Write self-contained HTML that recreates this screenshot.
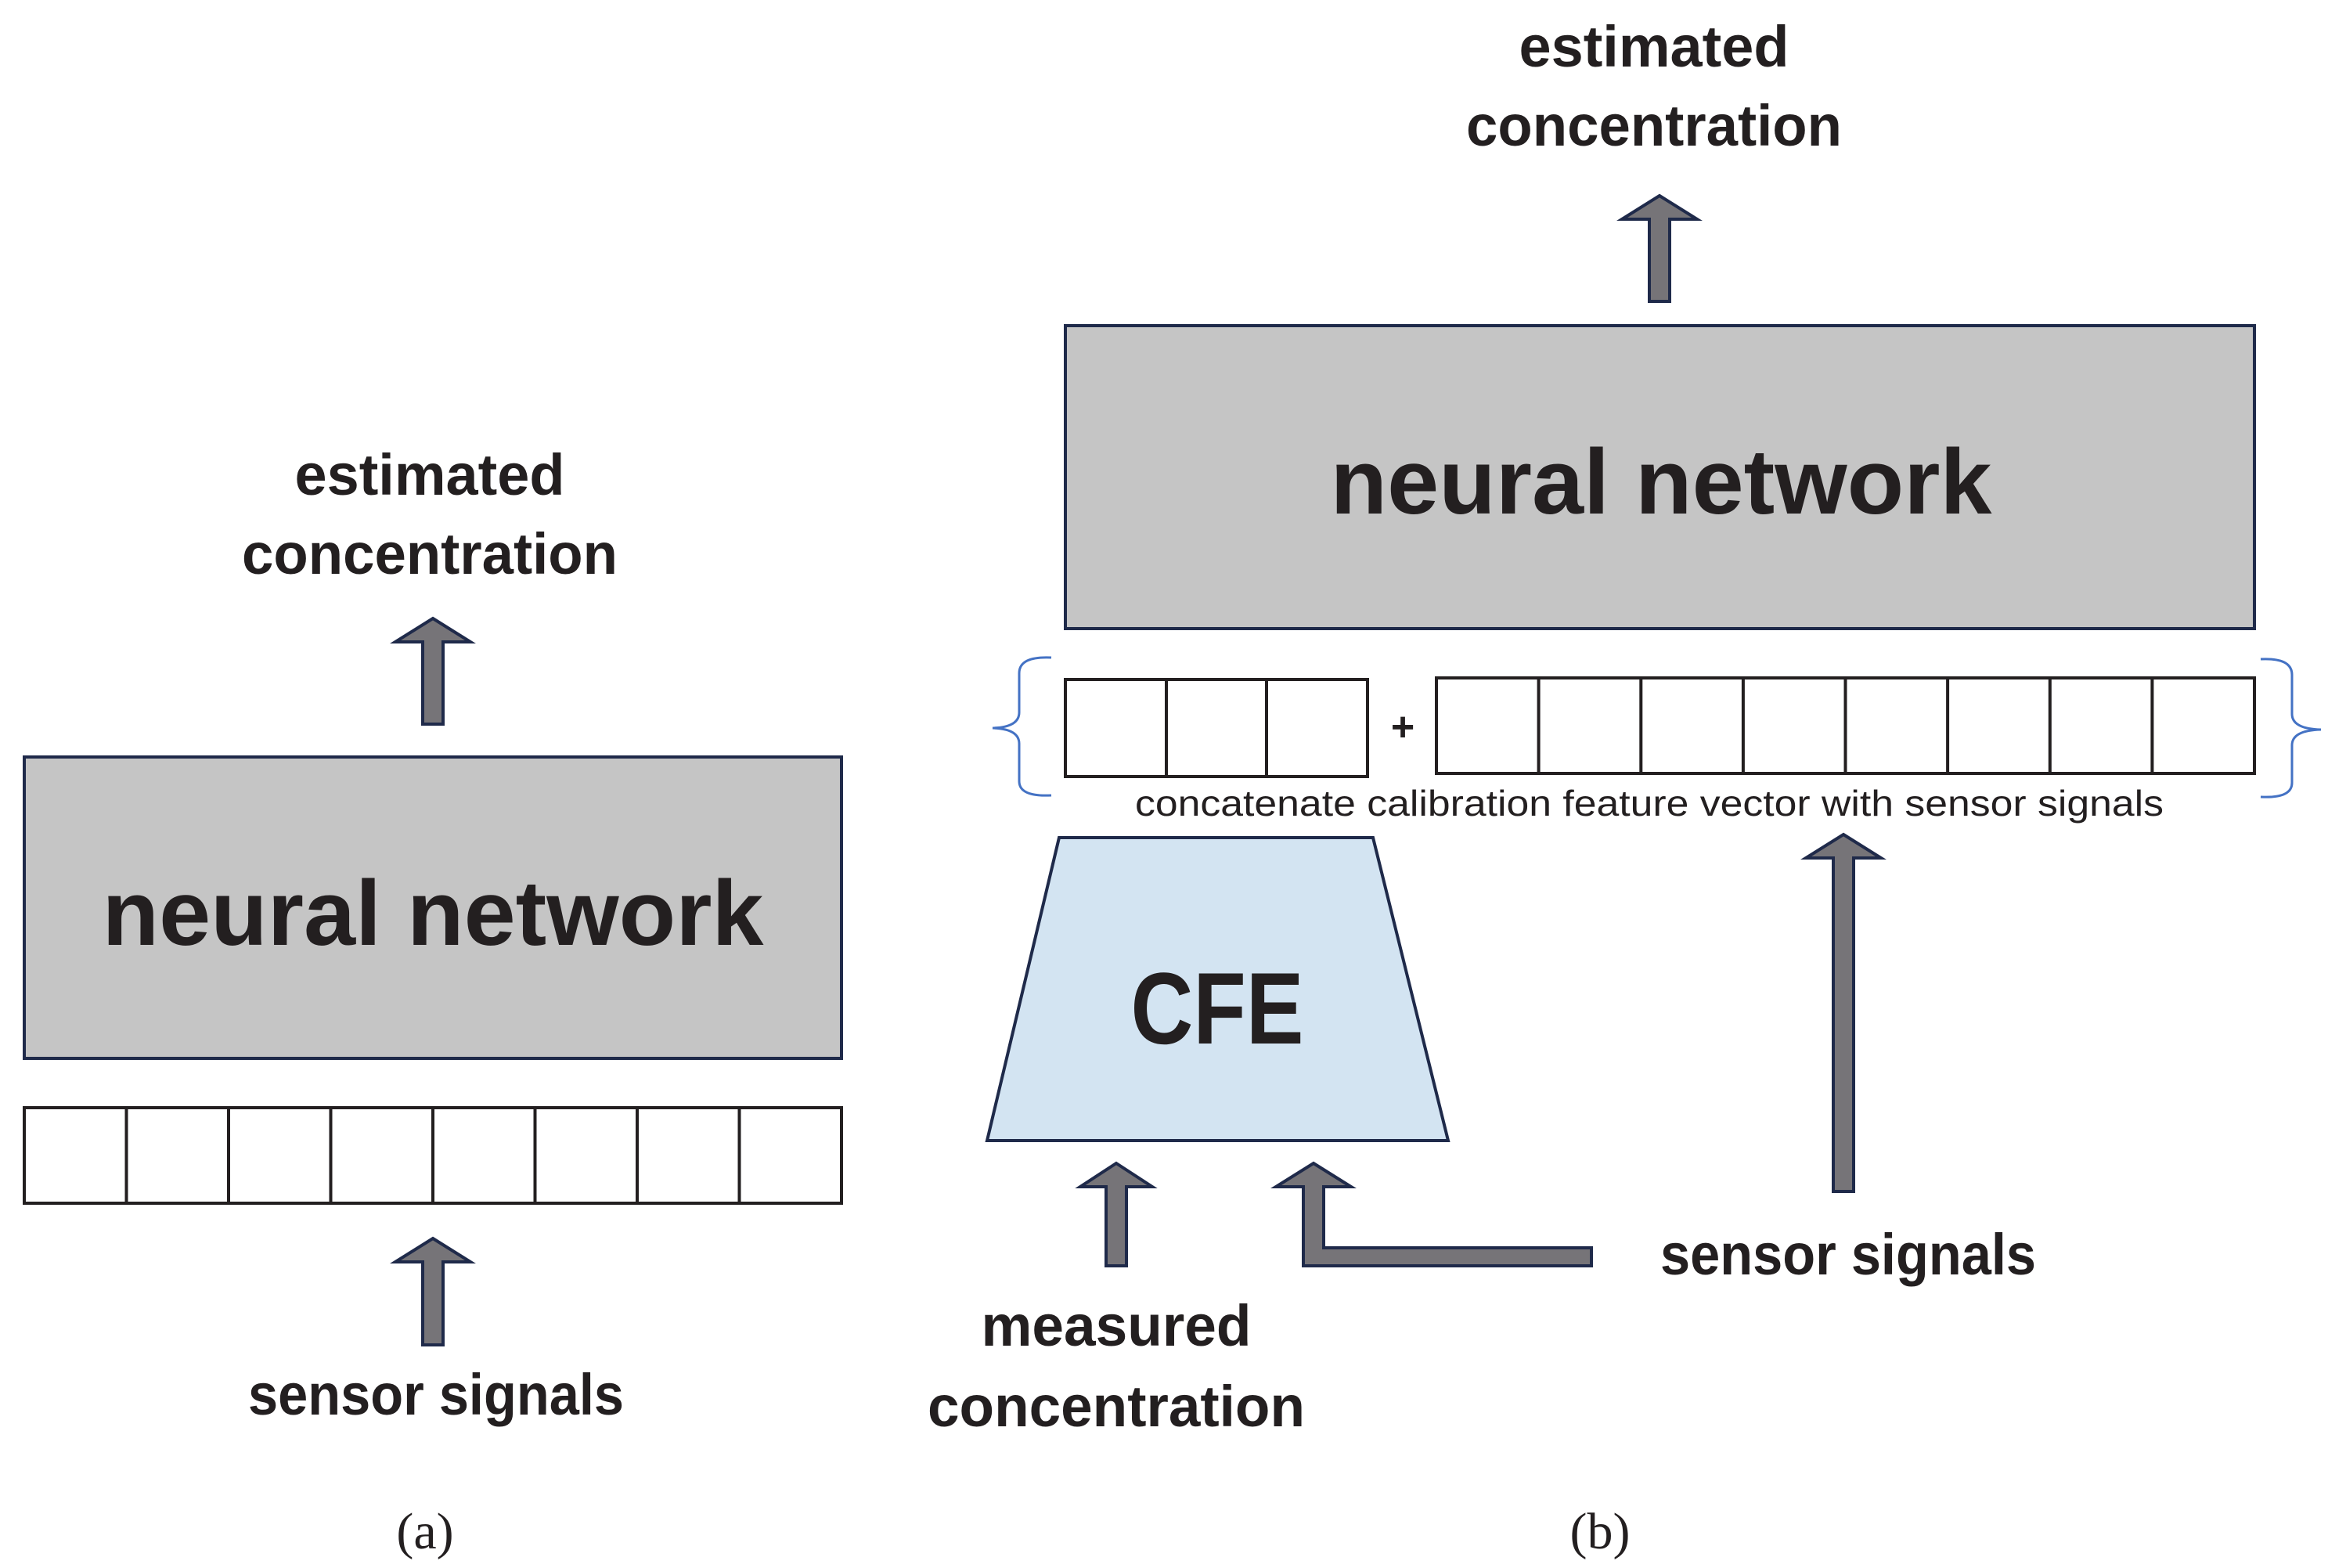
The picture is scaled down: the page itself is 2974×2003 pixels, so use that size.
<!DOCTYPE html>
<html><head><meta charset="utf-8"><style>html,body{margin:0;padding:0;background:#fff}svg{display:block}</style></head>
<body>
<svg width="2974" height="2003" viewBox="0 0 2974 2003" xmlns="http://www.w3.org/2000/svg">
<defs>
<style>
.lb{font-family:"Liberation Sans",sans-serif;font-weight:bold;fill:#231f20;text-anchor:middle}
.ar{fill:#767478;stroke:#1f2a4a;stroke-width:4;stroke-linejoin:miter}
.cell{fill:#fff;stroke:#231f20;stroke-width:4}
</style>
</defs>
<!-- Panel (a) -->
<text class="lb" x="549" y="632" font-size="74" textLength="345" lengthAdjust="spacingAndGlyphs">estimated</text>
<text class="lb" x="549" y="733" font-size="74" textLength="480" lengthAdjust="spacingAndGlyphs">concentration</text>
<polygon class="ar" points="553,790 601,820 566,820 566,925 540,925 540,820 505,820"/>
<rect x="31" y="967" width="1044" height="385" fill="#c5c5c5" stroke="#1f2a4a" stroke-width="4"/>
<text class="lb" x="553" y="1207" font-size="118" textLength="845" lengthAdjust="spacingAndGlyphs">neural network</text>
<g>
<rect class="cell" x="31" y="1415" width="1044" height="122"/>
<line x1="161.5" y1="1415" x2="161.5" y2="1537" stroke="#231f20" stroke-width="4"/>
<line x1="292" y1="1415" x2="292" y2="1537" stroke="#231f20" stroke-width="4"/>
<line x1="422.5" y1="1415" x2="422.5" y2="1537" stroke="#231f20" stroke-width="4"/>
<line x1="553" y1="1415" x2="553" y2="1537" stroke="#231f20" stroke-width="4"/>
<line x1="683.5" y1="1415" x2="683.5" y2="1537" stroke="#231f20" stroke-width="4"/>
<line x1="814" y1="1415" x2="814" y2="1537" stroke="#231f20" stroke-width="4"/>
<line x1="944.5" y1="1415" x2="944.5" y2="1537" stroke="#231f20" stroke-width="4"/>
</g>
<polygon class="ar" points="553,1582 601,1612 566,1612 566,1718 540,1718 540,1612 505,1612"/>
<text class="lb" x="557" y="1807" font-size="74" textLength="480" lengthAdjust="spacingAndGlyphs">sensor signals</text>
<text x="543" y="1978" font-family="Liberation Serif,serif" font-size="66" text-anchor="middle" fill="#231f20">(a)</text>

<!-- Panel (b) -->
<text class="lb" x="2113" y="85" font-size="74" textLength="345" lengthAdjust="spacingAndGlyphs">estimated</text>
<text class="lb" x="2113" y="186" font-size="74" textLength="480" lengthAdjust="spacingAndGlyphs">concentration</text>
<polygon class="ar" points="2120,250 2168,280 2133,280 2133,385 2107,385 2107,280 2072,280"/>
<rect x="1361" y="416" width="1519" height="387" fill="#c5c5c5" stroke="#1f2a4a" stroke-width="4"/>
<text class="lb" x="2122" y="656" font-size="118" textLength="845" lengthAdjust="spacingAndGlyphs">neural network</text>

<rect class="cell" x="1361" y="868" width="386" height="124"/>
<line x1="1490" y1="868" x2="1490" y2="992" stroke="#231f20" stroke-width="4"/>
<line x1="1618" y1="868" x2="1618" y2="992" stroke="#231f20" stroke-width="4"/>
<text x="1792" y="946" font-family="Liberation Sans,sans-serif" font-weight="bold" font-size="52" text-anchor="middle" fill="#231f20">+</text>
<rect class="cell" x="1835" y="866" width="1045" height="122"/>
<line x1="1965.6" y1="866" x2="1965.6" y2="988" stroke="#231f20" stroke-width="4"/>
<line x1="2096.3" y1="866" x2="2096.3" y2="988" stroke="#231f20" stroke-width="4"/>
<line x1="2226.9" y1="866" x2="2226.9" y2="988" stroke="#231f20" stroke-width="4"/>
<line x1="2357.5" y1="866" x2="2357.5" y2="988" stroke="#231f20" stroke-width="4"/>
<line x1="2488.1" y1="866" x2="2488.1" y2="988" stroke="#231f20" stroke-width="4"/>
<line x1="2618.8" y1="866" x2="2618.8" y2="988" stroke="#231f20" stroke-width="4"/>
<line x1="2749.4" y1="866" x2="2749.4" y2="988" stroke="#231f20" stroke-width="4"/>

<path d="M1343,840 Q1302,838 1302,860 L1302,910 Q1302,929 1268,930 Q1302,931 1302,950 L1302,998 Q1302,1018 1343,1016" fill="none" stroke="#4472c4" stroke-width="3"/>
<path d="M2888,842 Q2928,840 2928,862 L2928,912 Q2928,931 2965,932 Q2928,933 2928,952 L2928,1000 Q2928,1020 2888,1018" fill="none" stroke="#4472c4" stroke-width="3"/>

<text x="2107" y="1042" font-family="Liberation Sans,sans-serif" font-size="46" text-anchor="middle" fill="#231f20" textLength="1314" lengthAdjust="spacingAndGlyphs">concatenate calibration feature vector with sensor signals</text>

<polygon points="1353,1070 1754,1070 1850,1457 1261,1457" fill="#d3e4f2" stroke="#1f2a4a" stroke-width="4"/>
<text class="lb" x="1555" y="1333" font-size="130" textLength="221" lengthAdjust="spacingAndGlyphs">CFE</text>

<polygon class="ar" points="1426,1486 1472,1516 1439,1516 1439,1617 1413,1617 1413,1516 1380,1516"/>
<polygon class="ar" points="1678,1486 1726,1516 1691,1516 1691,1594 2033,1594 2033,1617 1665,1617 1665,1516 1630,1516"/>
<polygon class="ar" points="2355,1066 2403,1096 2368,1096 2368,1522 2342,1522 2342,1096 2307,1096"/>

<text class="lb" x="2361" y="1628" font-size="74" textLength="480" lengthAdjust="spacingAndGlyphs">sensor signals</text>
<text class="lb" x="1426" y="1719" font-size="74" textLength="345" lengthAdjust="spacingAndGlyphs">measured</text>
<text class="lb" x="1426" y="1822" font-size="74" textLength="482" lengthAdjust="spacingAndGlyphs">concentration</text>
<text x="2044" y="1978" font-family="Liberation Serif,serif" font-size="66" text-anchor="middle" fill="#231f20">(b)</text>
</svg>
</body></html>
